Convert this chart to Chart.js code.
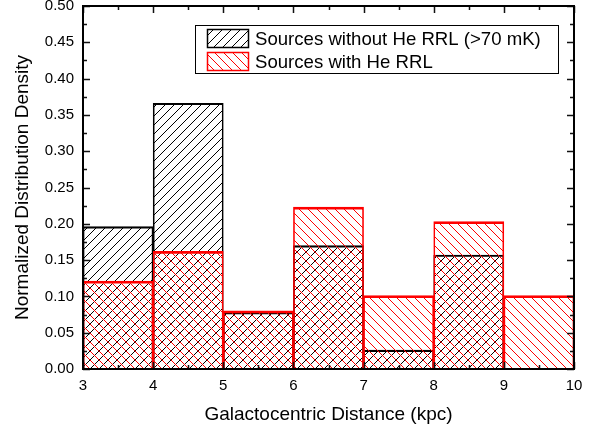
<!DOCTYPE html>
<html>
<head>
<meta charset="utf-8">
<script src="https://cdn.jsdelivr.net/npm/chart.js@4/dist/chart.umd.min.js"></script>
<style>
  html, body { margin: 0; padding: 0; background: #ffffff; }
  #wrap { width: 607px; height: 432px; }
</style>
</head>
<body>
<div id="wrap"><canvas id="hist" width="607" height="432"></canvas></div>
<script>
// Histogram bins (kpc) and normalized densities
const binStarts = [3, 4, 5, 6, 7, 8, 9];
const binWidth = 1;
const withoutHe = [0.196, 0.366, 0.078, 0.170, 0.026, 0.157, 0];
const withHe = [0.121, 0.162, 0.080, 0.223, 0.101, 0.203, 0.101];
const seriesNames = ['Sources without He RRL (>70 mK)', 'Sources with He RRL'];
const xRange = [3, 10];
const yRange = [0, 0.5];

const FONT = '"Liberation Sans", Arial, Helvetica, sans-serif';

// Diagonal hatch pattern: dir = 1 for "/", -1 for "\"
function hatch(color, dir, size, lw) {
  const c = document.createElement('canvas');
  c.width = size; c.height = size;
  const g = c.getContext('2d');
  g.strokeStyle = color;
  g.lineWidth = lw;
  g.beginPath();
  if (dir > 0) {
    g.moveTo(-1, size + 1); g.lineTo(size + 1, -1);
    g.moveTo(-1, 1); g.lineTo(1, -1);
    g.moveTo(size - 1, size + 1); g.lineTo(size + 1, size - 1);
  } else {
    g.moveTo(-1, -1); g.lineTo(size + 1, size + 1);
    g.moveTo(size - 1, -1); g.lineTo(size + 1, 1);
    g.moveTo(-1, size - 1); g.lineTo(1, size + 1);
  }
  g.stroke();
  return g.createPattern(c, 'repeat');
}

const ctx = document.getElementById('hist').getContext('2d');
const blackHatch = hatch('#000000', 1, 9, 1);
const redHatch = hatch('#ff0000', -1, 9, 1);

const toPoints = vals => vals.map((v, i) => ({ x: binStarts[i] + binWidth / 2, y: v }));

// Frame with inward major/minor ticks on all four sides
const framePlugin = {
  id: 'frame',
  afterDatasetsDraw(chart) {
    const { ctx: c, chartArea: a, scales } = chart;
    const xs = scales.x, ys = scales.y;
    c.save();
    c.strokeStyle = '#111';
    c.lineWidth = 1.5;
    c.beginPath();
    for (let k = 0; k <= 20; k++) {
      const v = yRange[0] + k * 0.025;
      const p = Math.round(ys.getPixelForValue(v)) + 0.5;
      const len = k % 2 === 0 ? 7 : 4;
      c.moveTo(a.left, p); c.lineTo(a.left + len, p);
      c.moveTo(a.right, p); c.lineTo(a.right - len, p);
    }
    for (let k = 0; k <= 14; k++) {
      const v = xRange[0] + k * 0.5;
      const p = Math.round(xs.getPixelForValue(v)) + 0.5;
      const len = k % 2 === 0 ? 7 : 4;
      c.moveTo(p, a.bottom); c.lineTo(p, a.bottom - len);
      c.moveTo(p, a.top); c.lineTo(p, a.top + len);
    }
    c.stroke();
    c.lineWidth = 2;
    c.strokeStyle = '#000';
    c.strokeRect(a.left, a.top, a.right - a.left, a.bottom - a.top);
    c.restore();
  }
};

// Boxed legend inside the plot area
const boxLegend = {
  id: 'boxLegend',
  afterDraw(chart) {
    const c = chart.ctx;
    c.save();
    c.fillStyle = '#fff';
    c.fillRect(195, 25, 363, 48);
    c.lineWidth = 1;
    c.strokeStyle = '#000';
    c.strokeRect(195.5, 25.5, 363, 48);
    const rows = [
      { y: 29, fill: blackHatch, stroke: '#000', text: seriesNames[0] },
      { y: 52, fill: redHatch, stroke: '#ff0000', text: seriesNames[1] }
    ];
    rows.forEach(r => {
      c.fillStyle = '#fff';
      c.fillRect(207, r.y, 42, 19);
      c.fillStyle = r.fill;
      c.fillRect(207, r.y, 42, 19);
      c.lineWidth = 1.5;
      c.strokeStyle = r.stroke;
      c.strokeRect(207.5, r.y + 0.5, 41, 18);
      c.fillStyle = '#000';
      c.font = '18.6px ' + FONT;
      c.textBaseline = 'middle';
      c.textAlign = 'left';
      c.fillText(r.text, 255, r.y + 11);
    });
    c.restore();
  }
};

new Chart(ctx, {
  type: 'bar',
  data: {
    datasets: [
      {
        label: seriesNames[0],
        data: toPoints(withoutHe),
        backgroundColor: blackHatch,
        borderColor: '#000000',
        borderWidth: { top: 1.5, left: 1, right: 1, bottom: 0 },
        borderSkipped: false,
        order: 1
      },
      {
        label: seriesNames[1],
        data: toPoints(withHe),
        backgroundColor: redHatch,
        borderColor: '#ff0000',
        borderWidth: { top: 2, left: 1, right: 1, bottom: 0 },
        borderSkipped: false,
        order: 0
      }
    ]
  },
  options: {
    responsive: false,
    animation: false,
    events: [],
    grouped: false,
    barPercentage: 1,
    categoryPercentage: 1,
    layout: { padding: { top: 6, right: 33, left: 0, bottom: 0 } },
    plugins: {
      legend: { display: false },
      tooltip: { enabled: false }
    },
    scales: {
      x: {
        type: 'linear',
        min: xRange[0],
        max: xRange[1],
        offset: false,
        grid: { display: false, drawTicks: false },
        border: { display: false },
        ticks: {
          stepSize: 1,
          padding: 8,
          color: '#000',
          font: { family: FONT, size: 15 },
          maxRotation: 0
        },
        title: {
          display: true,
          text: 'Galactocentric Distance (kpc)',
          color: '#000',
          font: { family: FONT, size: 19 },
          padding: { top: 0, bottom: 6 }
        },
        afterFit(scale) {
          scale.height = 63;
          scale.paddingLeft = 0;
          scale.paddingRight = 0;
        }
      },
      y: {
        min: yRange[0],
        max: yRange[1],
        grid: { display: false, drawTicks: false },
        border: { display: false },
        ticks: {
          stepSize: 0.05,
          padding: 9,
          color: '#000',
          font: { family: FONT, size: 15 },
          callback: v => Number(v).toFixed(2)
        },
        title: {
          display: true,
          text: 'Normalized Distribution Density',
          color: '#000',
          font: { family: FONT, size: 19 },
          padding: { top: 11, bottom: 0 }
        },
        afterFit(scale) {
          scale.width = 83;
          scale.paddingTop = 0;
          scale.paddingBottom = 0;
        }
      }
    }
  },
  plugins: [framePlugin, boxLegend]
});
</script>
</body>
</html>
